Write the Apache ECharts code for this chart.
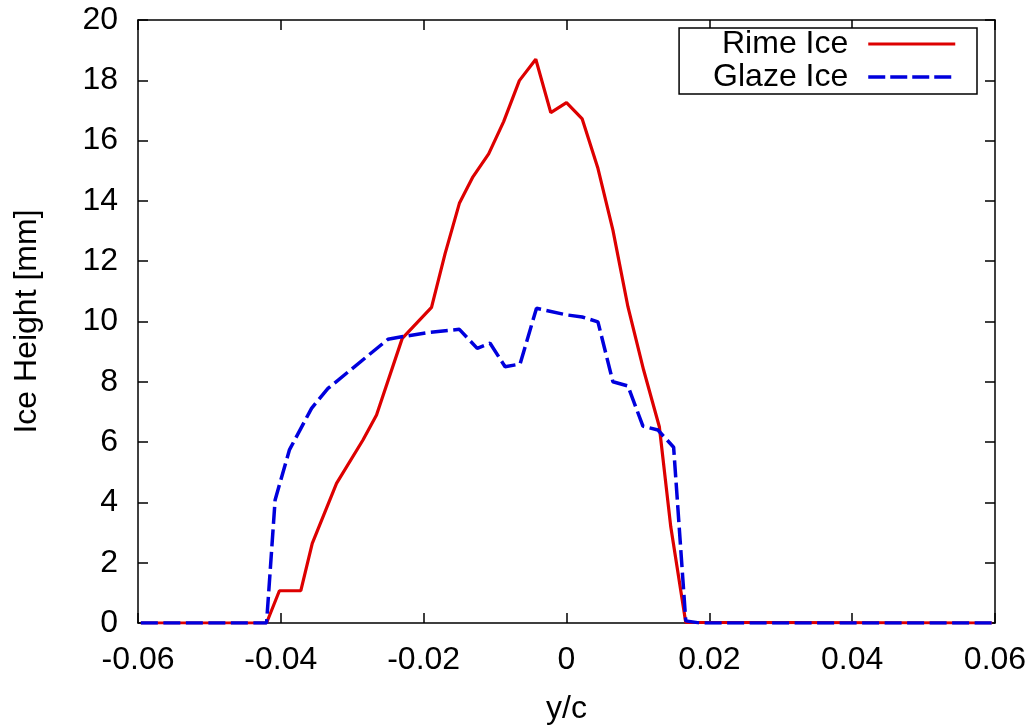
<!DOCTYPE html>
<html>
<head>
<meta charset="utf-8">
<script src="https://cdn.jsdelivr.net/npm/echarts@6/dist/echarts.min.js"></script>
<style>
html,body{margin:0;padding:0;background:#fff;}
#chart{width:1034px;height:725px;}
</style>
</head>
<body>
<div id="chart"></div>
<script>
// ---- data ----
var seriesNames = ['Rime Ice', 'Glaze Ice'];

var rimeX = [-0.0596, -0.0420, -0.0402, -0.0372, -0.0356, -0.0322, -0.0285, -0.0266, -0.0230, -0.0189, -0.0170, -0.0150, -0.0131, -0.0109, -0.0088, -0.0066, -0.0043, -0.0022, 0.0000, 0.0022, 0.0044, 0.0065, 0.0086, 0.0108, 0.0130, 0.0146, 0.0167, 0.0596];
var rimeY = [0, 0, 1.07, 1.07, 2.64, 4.63, 6.07, 6.90, 9.44, 10.47, 12.25, 13.92, 14.80, 15.56, 16.63, 17.99, 18.70, 16.93, 17.26, 16.72, 15.08, 13.03, 10.49, 8.39, 6.51, 3.19, 0.02, 0];

var glazeX = [-0.0596, -0.0420, -0.0408, -0.0388, -0.0357, -0.0334, -0.0250, -0.0229, -0.0192, -0.0150, -0.0125, -0.0107, -0.0086, -0.0065, -0.0042, 0.0000, 0.0022, 0.0044, 0.0065, 0.0086, 0.0107, 0.0128, 0.0150, 0.0167, 0.0187, 0.0596];
var glazeY = [0, 0, 4.08, 5.74, 7.12, 7.78, 9.41, 9.50, 9.64, 9.74, 9.11, 9.28, 8.50, 8.59, 10.44, 10.22, 10.15, 9.99, 8.00, 7.86, 6.53, 6.40, 5.83, 0.07, 0, 0];

var xTicks = [-0.06, -0.04, -0.02, 0, 0.02, 0.04, 0.06];
var xTickLabels = ['-0.06', '-0.04', '-0.02', '0', '0.02', '0.04', '0.06'];
var yTicks = [0, 2, 4, 6, 8, 10, 12, 14, 16, 18, 20];
var yTickLabels = ['0', '2', '4', '6', '8', '10', '12', '14', '16', '18', '20'];

function zip(xs, ys) { return xs.map(function (x, i) { return [x, ys[i]]; }); }
function lookup(ticks, labels, v) {
  for (var i = 0; i < ticks.length; i++) { if (Math.abs(ticks[i] - v) < 1e-9) return labels[i]; }
  return '';
}

var FONT = 'Liberation Sans, Arial, Helvetica, sans-serif';
var FS = 32;
var RED = '#dd0000', BLUE = '#0000dd';
var chart = echarts.init(document.getElementById('chart'), null, {renderer: 'canvas'});

var tickStyle = {show: true, inside: true, length: 10, lineStyle: {color: '#000', width: 1.5}};
var lineStyle = {show: true, onZero: false, lineStyle: {color: '#000', width: 1.5}};

chart.setOption({
  animation: false,
  backgroundColor: '#fff',
  grid: {left: 138, right: 39, top: 20, bottom: 102, containLabel: false, outerBoundsMode: 'none'},
  legend: {
    data: [
      {name: seriesNames[0], lineStyle: {width: 3.2, color: RED}},
      {name: seriesNames[1], lineStyle: {width: 3.5, color: BLUE, type: [17, 5]}}
    ],
    orient: 'vertical',
    right: 57,
    top: 28,
    align: 'right',
    itemWidth: 87,
    itemHeight: 20,
    itemGap: 1,
    padding: [0, 20, 1, 34],
    borderColor: '#000',
    borderWidth: 1.5,
    backgroundColor: '#fff',
    itemStyle: {color: 'rgba(0,0,0,0)', borderColor: 'rgba(0,0,0,0)', borderWidth: 0},
    textStyle: {fontFamily: FONT, fontSize: FS, color: '#000', align: 'right', padding: [1, 15, 0, 0]}
  },
  xAxis: [{
    type: 'value', min: -0.06, max: 0.06, interval: 0.02, position: 'bottom',
    name: 'y/c', nameLocation: 'middle', nameGap: 70,
    nameTextStyle: {fontFamily: FONT, fontSize: FS, color: '#000'},
    axisLine: lineStyle, axisTick: tickStyle, splitLine: {show: false},
    axisLabel: {margin: 21, fontFamily: FONT, fontSize: FS, color: '#000',
      formatter: function (v) { return lookup(xTicks, xTickLabels, v); }}
  }, {
    type: 'value', min: -0.06, max: 0.06, interval: 0.02, position: 'top',
    axisLine: lineStyle, axisTick: tickStyle, splitLine: {show: false}, axisLabel: {show: false}
  }],
  yAxis: [{
    type: 'value', min: 0, max: 20, interval: 2, position: 'left',
    name: 'Ice Height [mm]', nameLocation: 'middle', nameGap: 95, nameRotate: 90,
    nameTextStyle: {fontFamily: FONT, fontSize: FS, color: '#000'},
    axisLine: lineStyle, axisTick: tickStyle, splitLine: {show: false},
    axisLabel: {margin: 20, fontFamily: FONT, fontSize: FS, color: '#000',
      formatter: function (v) { return lookup(yTicks, yTickLabels, v); }}
  }, {
    type: 'value', min: 0, max: 20, interval: 2, position: 'right',
    axisLine: lineStyle, axisTick: tickStyle, splitLine: {show: false}, axisLabel: {show: false}
  }],
  series: [{
    name: seriesNames[0], type: 'line', data: zip(rimeX, rimeY),
    symbol: 'none', showSymbol: false, smooth: false,
    lineStyle: {color: RED, width: 3.2}, itemStyle: {color: RED}
  }, {
    name: seriesNames[1], type: 'line', data: zip(glazeX, glazeY),
    symbol: 'none', showSymbol: false, smooth: false,
    lineStyle: {color: BLUE, width: 3.5, type: [17, 5.5]}, itemStyle: {color: BLUE}
  }]
});
</script>
</body>
</html>
